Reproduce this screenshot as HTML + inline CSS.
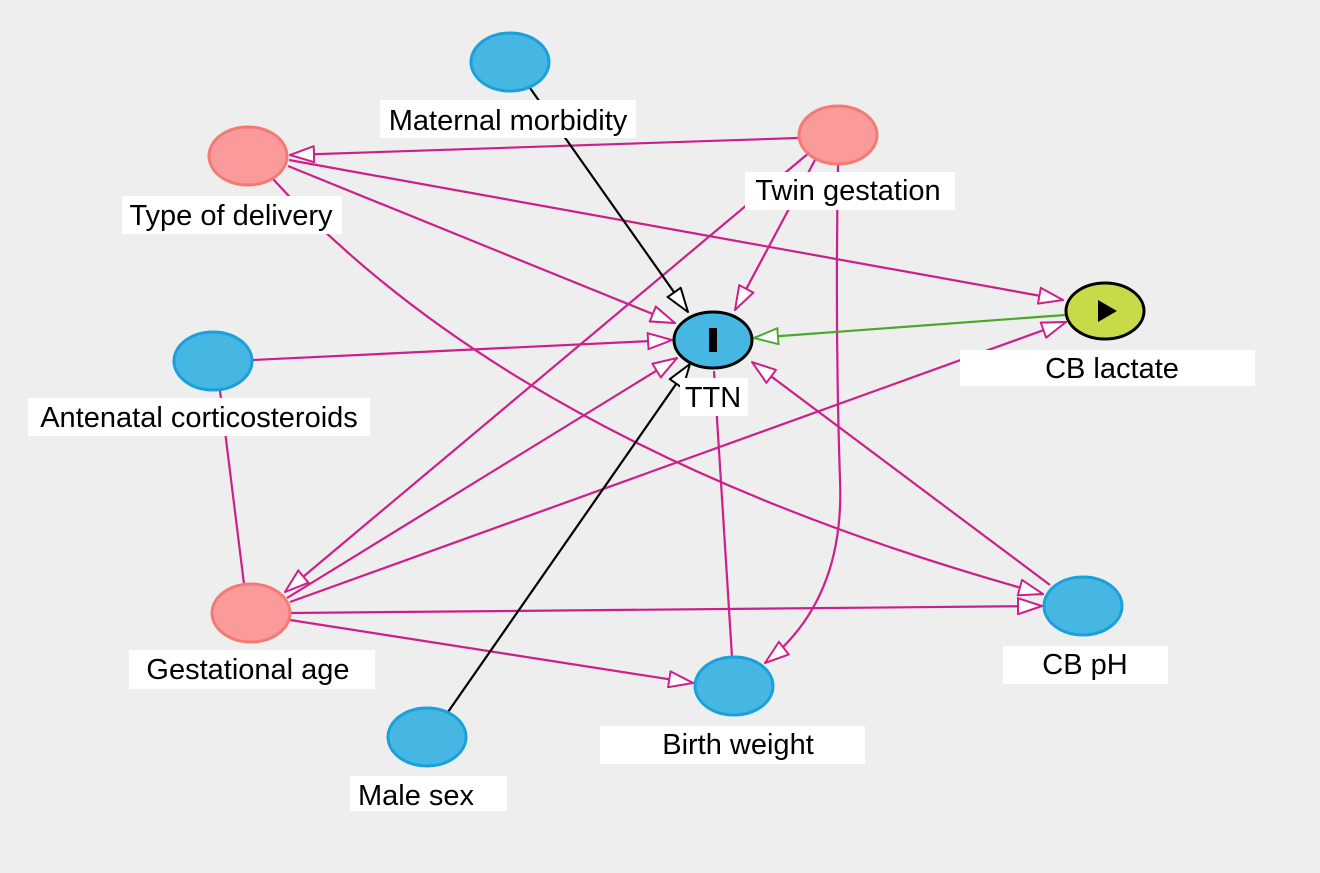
<!DOCTYPE html>
<html><head><meta charset="utf-8"><style>
html,body{margin:0;padding:0;background:#eeeeee;}
svg{display:block;}
text{font-family:"Liberation Sans",Arial,sans-serif;font-size:29px;fill:#000;}
</style></head><body>
<svg width="1320" height="873" viewBox="0 0 1320 873" xmlns="http://www.w3.org/2000/svg">
<defs>
<marker id="mp" viewBox="0 0 26 18" refX="25" refY="9" markerWidth="26" markerHeight="18" markerUnits="userSpaceOnUse" orient="auto">
<polygon points="1,1 25,9 1,17" fill="#fff" stroke="#cc1f8a" stroke-width="2"/></marker>
<marker id="mk" viewBox="0 0 26 18" refX="25" refY="9" markerWidth="26" markerHeight="18" markerUnits="userSpaceOnUse" orient="auto">
<polygon points="1,1 25,9 1,17" fill="#fff" stroke="#000" stroke-width="2"/></marker>
<marker id="mg" viewBox="0 0 26 18" refX="25" refY="9" markerWidth="26" markerHeight="18" markerUnits="userSpaceOnUse" orient="auto">
<polygon points="1,1 25,9 1,17" fill="#fff" stroke="#4aa82a" stroke-width="2"/></marker>
</defs>
<rect width="1320" height="873" fill="#eeeeee"/>
<g stroke="#cc1f8a" stroke-width="2.2" fill="none">
<line x1="798" y1="138" x2="290" y2="155" marker-end="url(#mp)"/>
<line x1="288" y1="166" x2="675" y2="323" marker-end="url(#mp)"/>
<line x1="289" y1="160" x2="1063" y2="300" marker-end="url(#mp)"/>
<path d="M272,178 Q520,450 1043,594" marker-end="url(#mp)"/>
<line x1="815" y1="160" x2="735" y2="310" marker-end="url(#mp)"/>
<line x1="810" y1="152" x2="285" y2="592" marker-end="url(#mp)"/>
<path d="M838,165 Q835,330 840,480 Q845,600 765,663" marker-end="url(#mp)"/>
<line x1="253" y1="360" x2="672" y2="340" marker-end="url(#mp)"/>
<line x1="220" y1="391" x2="244" y2="584"/>
<line x1="287" y1="598" x2="677" y2="358" marker-end="url(#mp)"/>
<line x1="290" y1="602" x2="1066" y2="322" marker-end="url(#mp)"/>
<line x1="291" y1="613" x2="1042" y2="606" marker-end="url(#mp)"/>
<line x1="290" y1="620" x2="693" y2="683" marker-end="url(#mp)"/>
<line x1="732" y1="657" x2="714" y2="371"/>
<line x1="1050" y1="585" x2="752" y2="362" marker-end="url(#mp)"/>
</g>
<line x1="1065" y1="315" x2="754" y2="338" stroke="#4aa82a" stroke-width="2.2" marker-end="url(#mg)"/>
<line x1="530" y1="88" x2="688" y2="312" stroke="#000" stroke-width="2.2" marker-end="url(#mk)"/>
<line x1="448" y1="712" x2="690" y2="364" stroke="#000" stroke-width="2.2" marker-end="url(#mk)"/>
<g stroke-width="3">
<ellipse cx="510" cy="62" rx="39" ry="29" fill="#45b7e2" stroke="#1aa0dc"/>
<ellipse cx="248" cy="156" rx="39" ry="29" fill="#fa9a9a" stroke="#f47a74"/>
<ellipse cx="838" cy="135" rx="39" ry="29" fill="#fa9a9a" stroke="#f47a74"/>
<ellipse cx="213" cy="361" rx="39" ry="29" fill="#45b7e2" stroke="#1aa0dc"/>
<ellipse cx="251" cy="613" rx="39" ry="29" fill="#fa9a9a" stroke="#f47a74"/>
<ellipse cx="427" cy="737" rx="39" ry="29" fill="#45b7e2" stroke="#1aa0dc"/>
<ellipse cx="734" cy="686" rx="39" ry="29" fill="#45b7e2" stroke="#1aa0dc"/>
<ellipse cx="1083" cy="606" rx="39" ry="29" fill="#45b7e2" stroke="#1aa0dc"/>
<ellipse cx="713" cy="340" rx="39" ry="28" fill="#45b7e2" stroke="#000"/>
<ellipse cx="1105" cy="311" rx="39" ry="28" fill="#c9da48" stroke="#000"/>
</g>
<rect x="709" y="328" width="8" height="24" fill="#000"/>
<polygon points="1098,300 1117,311 1098,322" fill="#000"/>
<g fill="#fff">
<rect x="380" y="100" width="256" height="38"/>
<rect x="122" y="196" width="220" height="38"/>
<rect x="745" y="172" width="210" height="38"/>
<rect x="680" y="378" width="68" height="38"/>
<rect x="960" y="350" width="295" height="36"/>
<rect x="28" y="398" width="342" height="38"/>
<rect x="129" y="650" width="246" height="39"/>
<rect x="350" y="776" width="157" height="35"/>
<rect x="600" y="726" width="265" height="38"/>
<rect x="1003" y="646" width="165" height="38"/>
</g>
<g text-anchor="middle">
<text x="508" y="130">Maternal morbidity</text>
<text x="231" y="225">Type of delivery</text>
<text x="848" y="200">Twin gestation</text>
<text x="713" y="407">TTN</text>
<text x="1112" y="378">CB lactate</text>
<text x="199" y="427">Antenatal corticosteroids</text>
<text x="248" y="679">Gestational age</text>
<text x="416" y="805">Male sex</text>
<text x="738" y="754">Birth weight</text>
<text x="1085" y="674">CB pH</text>
</g>
</svg>
</body></html>
